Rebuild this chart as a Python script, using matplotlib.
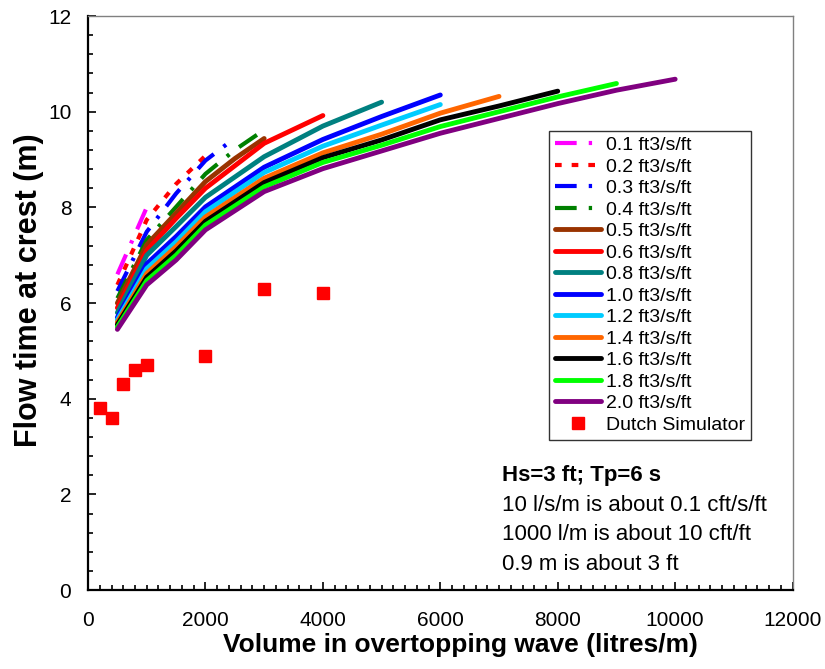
import numpy as np
import matplotlib
matplotlib.use("Agg")
import matplotlib.pyplot as plt
from matplotlib.ticker import MultipleLocator

plt.rcParams["font.family"] = ["Liberation Sans", "DejaVu Sans"]

# flow time at crest vs overtopping volume, one curve per discharge
labels = ["0.1 ft3/s/ft", "0.2 ft3/s/ft", "0.3 ft3/s/ft", "0.4 ft3/s/ft",
          "0.5 ft3/s/ft", "0.6 ft3/s/ft", "0.8 ft3/s/ft", "1.0 ft3/s/ft",
          "1.2 ft3/s/ft", "1.4 ft3/s/ft", "1.6 ft3/s/ft", "1.8 ft3/s/ft",
          "2.0 ft3/s/ft"]

vol_01 = [500, 1000]
t_01 = [6.60, 8.00]
vol_02 = [500, 1000, 1500, 2000]
t_02 = [6.38, 7.74, 8.49, 9.08]
vol_03 = [500, 1000, 1500, 2000, 2500]
t_03 = [6.25, 7.49, 8.29, 8.98, 9.45]
vol_04 = [500, 1000, 1500, 2000, 2500, 3000]
t_04 = [6.10, 7.32, 8.01, 8.70, 9.20, 9.62]
vol_05 = [500, 1000, 1500, 2000, 2500, 3000]
t_05 = [6.00, 7.22, 7.88, 8.54, 9.02, 9.44]
vol_06 = [500, 1000, 1500, 2000, 3000, 4000]
t_06 = [5.90, 7.10, 7.77, 8.40, 9.34, 9.92]
vol_08 = [500, 1000, 1500, 2000, 3000, 4000, 5000]
t_08 = [5.80, 7.00, 7.60, 8.21, 9.06, 9.70, 10.20]
vol_10 = [500, 1000, 1500, 2000, 3000, 4000, 5000, 6000]
t_10 = [5.70, 6.82, 7.39, 8.01, 8.84, 9.42, 9.90, 10.35]
vol_12 = [500, 1000, 1500, 2000, 3000, 4000, 5000, 6000]
t_12 = [5.65, 6.72, 7.28, 7.91, 8.73, 9.28, 9.72, 10.15]
vol_14 = [500, 1000, 1500, 2000, 3000, 4000, 5000, 6000, 7000]
t_14 = [5.60, 6.62, 7.18, 7.80, 8.61, 9.14, 9.53, 9.97, 10.32]
vol_16 = [500, 1000, 1500, 2000, 3000, 4000, 5000, 6000, 7000, 8000]
t_16 = [5.55, 6.54, 7.09, 7.71, 8.52, 9.04, 9.41, 9.83, 10.12, 10.43]
vol_18 = [500, 1000, 1500, 2000, 3000, 4000, 5000, 6000, 7000, 8000, 9000]
t_18 = [5.50, 6.47, 7.00, 7.63, 8.43, 8.94, 9.30, 9.69, 10.00, 10.31, 10.59]
vol_20 = [500, 1000, 1500, 2000, 3000, 4000, 5000, 6000, 7000, 8000, 9000, 10000]
t_20 = [5.45, 6.38, 6.90, 7.53, 8.33, 8.81, 9.18, 9.55, 9.86, 10.17, 10.45, 10.68]

# Dutch simulator measurements
dutch_vol = [200, 400, 600, 800, 1000, 2000, 3000, 4000]
dutch_t = [3.80, 3.60, 4.30, 4.60, 4.70, 4.90, 6.30, 6.20]

series = [(vol_01, t_01), (vol_02, t_02), (vol_03, t_03), (vol_04, t_04),
          (vol_05, t_05), (vol_06, t_06), (vol_08, t_08), (vol_10, t_10),
          (vol_12, t_12), (vol_14, t_14), (vol_16, t_16), (vol_18, t_18),
          (vol_20, t_20)]

colors = ["#FF00FF", "#FF0000", "#0000FF", "#008000", "#993300", "#FF0000",
          "#008080", "#0000FF", "#00CCFF", "#FF6600", "#000000", "#00FF00",
          "#800080"]
longshort = (5.2, 2.9, 0.8, 2.9)
dashes = [longshort, (1.6, 2.4), longshort, longshort] + [None] * 9

fig = plt.figure(figsize=(8.25, 6.69), dpi=100)
ax = fig.add_axes([0.1067, 0.118, 0.854, 0.858])

for (v, t), lab, c, d in zip(series, labels, colors, dashes):
    if d is None:
        ax.plot(v, t, color=c, lw=3.5, label=lab, solid_capstyle="round")
    else:
        ax.plot(v, t, color=c, lw=3.0, label=lab, dashes=d)

ax.plot(dutch_vol, dutch_t, ls="none", marker="s", ms=8, color="#FF0000",
        label="Dutch Simulator")

ax.set_xlim(0, 12000)
ax.set_ylim(0, 12)
ax.xaxis.set_major_locator(MultipleLocator(2000))
ax.xaxis.set_minor_locator(MultipleLocator(200))
ax.yaxis.set_major_locator(MultipleLocator(2))
ax.yaxis.set_minor_locator(MultipleLocator(0.4))
ax.tick_params(which="both", direction="in", top=False, right=False,
               labelsize=15, width=1.2)
ax.tick_params(axis="x", which="major", length=6, pad=15)
ax.tick_params(axis="y", which="major", length=6, pad=12)
ax.tick_params(which="minor", length=3.5)
for s in ["left", "bottom"]:
    ax.spines[s].set_linewidth(1.6)
for s in ["top", "right"]:
    ax.spines[s].set_color("#808080")
    ax.spines[s].set_linewidth(1.0)

ax.set_xlabel("Volume in overtopping wave (litres/m)", fontsize=19,
              fontweight="bold", labelpad=0)
ax.xaxis.set_label_coords(0.529, -0.075)
ax.set_ylabel("Flow time at crest (m)", fontsize=22, fontweight="bold")
ax.yaxis.set_label_coords(-0.062, 0.523)

leg = ax.legend(loc="upper left", bbox_to_anchor=(0.654, 0.80), fontsize=14,
                frameon=True, fancybox=False, handlelength=2.4,
                labelspacing=0.2, borderpad=0.3, handletextpad=0.25,
                borderaxespad=0)
leg.get_frame().set_edgecolor("black")
leg.get_frame().set_linewidth(1.0)

ax.text(0.587, 0.200, "Hs=3 ft; Tp=6 s", transform=ax.transAxes,
        fontsize=16, fontweight="bold", va="center")
notes = ["10 l/s/m is about 0.1 cft/s/ft", "1000 l/m is about 10 cft/ft",
         "0.9 m is about 3 ft"]
for i, n in enumerate(notes):
    ax.text(0.587, 0.148 - i * 0.0515, n, transform=ax.transAxes,
            fontsize=16, va="center")

fig.savefig("out.png", dpi=100)
